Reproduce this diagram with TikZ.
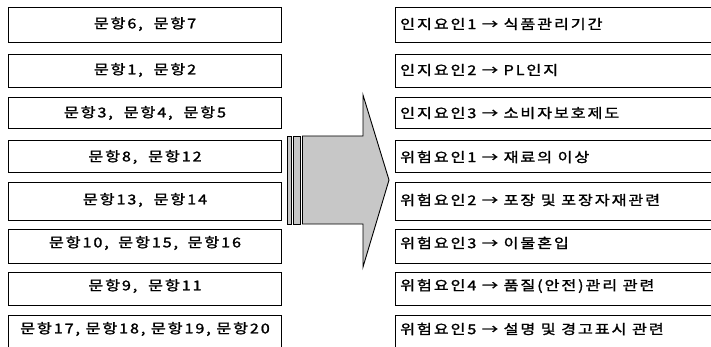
\documentclass[tikz,border=0pt]{standalone}
\usepackage{fontspec}
\setmainfont{Noto Sans CJK KR}
\newfontfamily\kfont[FakeBold=1.5,FakeStretch=1.2,LetterSpace=14]{Noto Sans CJK KR}
\begin{document}
\begin{tikzpicture}[x=1pt,y=-1pt,
  lbox/.style={draw=black,line width=0.9pt,fill=white},
  ltext/.style={font=\kfont\fontsize{13.5}{15}\selectfont,anchor=center,inner sep=0pt},
  rtext/.style={font=\kfont\fontsize{13.5}{15}\selectfont,anchor=west,inner sep=0pt},
  grayfill/.style={draw=black,line width=0.9pt,fill=black!22}]
\useasboundingbox (0,0) rectangle (711,347);
\foreach \t/\b [count=\i] in {7/42,54/87,97/128,140/172,182/220,229/263,272/305,315/352}{
  \draw[lbox] (8,\t) rectangle (281,\b);
  \draw[lbox] (395,\t) rectangle (716,\b);
}
\node[ltext] (l1) at (145,24) {문항6,\hspace{0.8em}문항7};
\node[ltext] (l2) at (145,70) {문항1,\hspace{0.8em}문항2};
\node[ltext] (l3) at (145,113) {문항3,\hspace{0.8em}문항4,\hspace{0.8em}문항5};
\node[ltext] (l4) at (145,157) {문항8,\hspace{0.8em}문항12};
\node[ltext] (l5) at (145,200) {문항13,\hspace{0.8em}문항14};
\node[ltext] (l6) at (145,243) {문항10,\hspace{0.7em}문항15,\hspace{0.7em}문항16};
\node[ltext] (l7) at (145,286) {문항9,\hspace{0.8em}문항11};
\node[ltext] (l8) at (145,329) {문항17, 문항18, 문항19, 문항20};
\node[rtext] (r1) at (400,24) {인지요인1 → 식품관리기간};
\node[rtext] (r2) at (400,70) {인지요인2 → PL인지};
\node[rtext] (r3) at (400,113) {인지요인3 → 소비자보호제도};
\node[rtext] (r4) at (400,157) {위험요인1 → 재료의 이상};
\node[rtext] (r5) at (400,200) {위험요인2 → 포장 및 포장자재관련};
\node[rtext] (r6) at (400,243) {위험요인3 → 이물혼입};
\node[rtext] (r7) at (400,286) {위험요인4 → 품질(안전)관리 관련};
\node[rtext] (r8) at (400,329) {위험요인5 → 설명 및 경고표시 관련};
\draw[grayfill] (287,136) rectangle (291,224);
\draw[grayfill] (293.5,136) rectangle (300,224);
\draw[grayfill] (302.5,136) -- (363,136) -- (363,95) -- (389,180) -- (363,267) -- (363,224) -- (302.5,224) -- cycle;
\end{tikzpicture}
\end{document}
